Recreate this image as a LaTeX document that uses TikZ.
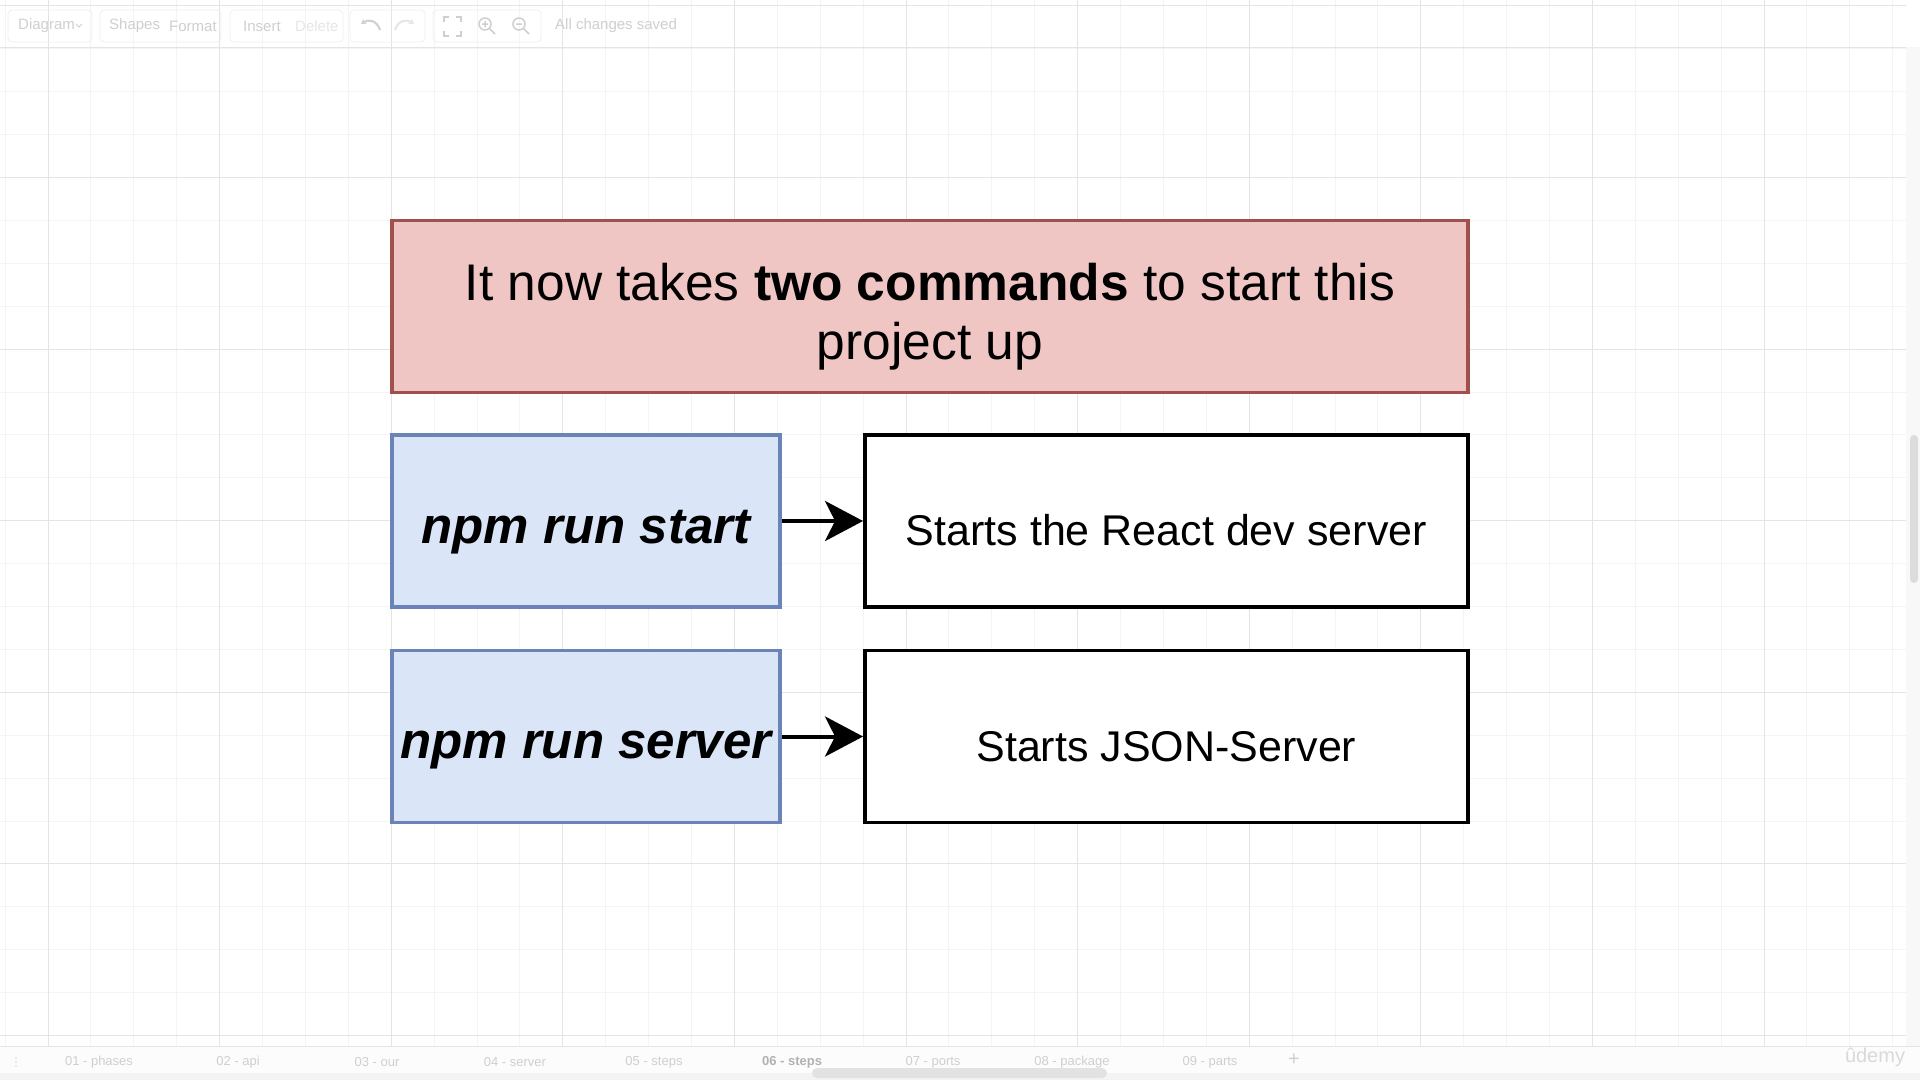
\documentclass[tikz,border=0pt]{standalone}
\usepackage{fontspec}
\setmainfont{Liberation Sans}
\usetikzlibrary{arrows.meta}
\definecolor{redfill}{HTML}{F0C6C4}
\definecolor{reddraw}{HTML}{A0514E}
\definecolor{bluefill}{HTML}{DAE6F8}
\definecolor{bluedraw}{HTML}{6A84B8}
\definecolor{gridminor}{HTML}{F4F4F4}
\definecolor{gridmajor}{HTML}{E4E4E4}
\definecolor{chrometext}{HTML}{CFCFCF}
\definecolor{chromepale}{HTML}{E6E6E6}
\definecolor{groupline}{HTML}{EFEFEF}
\definecolor{stripfill}{HTML}{F8F8F8}
\definecolor{thumbfill}{HTML}{DCDCDC}
\definecolor{tabfill}{HTML}{FCFCFC}
\definecolor{bandfill}{HTML}{F3F3F3}
\definecolor{hthumb}{HTML}{E2E2E2}
\tikzset{
  titlebox/.style={draw=reddraw, fill=redfill, line width=3.2pt, minimum width=1076pt, minimum height=172pt, align=center, inner sep=0pt, font=\fontsize{51.5}{58.8}\selectfont, text height=104.5pt, text depth=0pt},
  cmdbox/.style={draw=bluedraw, fill=bluefill, line width=3.2pt, minimum width=388pt, minimum height=172pt, inner sep=0pt, font=\fontsize{51}{56}\selectfont\bfseries\itshape, text height=44pt, text depth=0pt},
  descbox/.style={draw=black, fill=white, line width=3.6pt, minimum width=603pt, minimum height=172pt, inner sep=0pt, font=\fontsize{43}{50}\selectfont, text height=49pt, text depth=0pt},
  arr/.style={line width=4pt, -{Stealth[length=38pt, width=40pt, inset=10pt]}},
  tbtext/.style={text=chrometext, font=\fontsize{15}{18}\selectfont, inner sep=0pt, anchor=west},
  tbgroup/.style={draw=groupline, line width=0.8pt, rounded corners=4pt},
  tabtext/.style={text=chrometext, font=\fontsize{13}{16}\selectfont, inner sep=0pt},
}
\begin{document}
\begin{tikzpicture}[x=1pt,y=-1pt]
\useasboundingbox (0,0) rectangle (1920,1080);
\fill[white] (0,0) rectangle (1920,1080);
% grid
\foreach \k in {0,...,44} {
  \draw[gridminor, line width=1pt] ({5.1+42.9*\k},0) -- ({5.1+42.9*\k},1046);
}
\foreach \k in {0,...,24} {
  \draw[gridminor, line width=1pt] (0,{5.9+42.9*\k}) -- (1906,{5.9+42.9*\k});
}
\foreach \k in {0,...,10} {
  \draw[gridmajor, line width=1pt] ({48+171.6*\k},0) -- ({48+171.6*\k},1046);
}
\foreach \k in {0,...,6} {
  \draw[gridmajor, line width=1pt] (0,{5.9+171.6*\k}) -- (1906,{5.9+171.6*\k});
}
% toolbar
\draw[gridmajor, line width=1pt] (0,47) -- (1906,47);
\draw[tbgroup] (8,10) rectangle (92,42);
\draw[tbgroup] (100,10) rectangle (221,42);
\draw[tbgroup] (230,10) rectangle (343,42);
\draw[tbgroup] (350,10) rectangle (425,42);
\draw[tbgroup] (433,10) rectangle (541,42);
\node[tbtext] (tdiag) at (18,26) {Diagram};
\draw[chrometext, line width=1pt] (76,24) -- (79,27) -- (82,24);
\node[tbtext] (tshapes) at (109,26) {Shapes};
\node[tbtext] (tformat) at (169,26) {Format};
\node[tbtext] (tinsert) at (243,26) {Insert};
\node[tbtext, text=chromepale] (tdelete) at (295,26) {Delete};
\draw[chrometext, line width=2pt, -{Stealth[length=5pt,width=6pt]}] (380,30) .. controls (377,20) and (368,19) .. (361,24);
\draw[chromepale, line width=2pt, -{Stealth[length=5pt,width=6pt]}] (395,30) .. controls (398,20) and (407,19) .. (414,24);
\draw[chrometext, line width=1.5pt] (444,22) -- (444,17) -- (449,17) (456,17) -- (461,17) -- (461,22) (461,31) -- (461,36) -- (456,36) (449,36) -- (444,36) -- (444,31);
\draw[chrometext, line width=1.5pt] (485,24) circle (6pt) (489.5,28.5) -- (495,34) (482,24) -- (488,24) (485,21) -- (485,27);
\draw[chrometext, line width=1.5pt] (519,24) circle (6pt) (523.5,28.5) -- (529,34) (516,24) -- (522,24);
\node[tbtext] (tsaved) at (555,26) {All changes saved};
% right scrollbar strip
\fill[stripfill] (1906,47) rectangle (1920,1046);
\fill[thumbfill, rounded corners=4pt] (1910,435) rectangle (1918,583);
% bottom tab bar
\fill[tabfill] (0,1046) rectangle (1920,1080);
\draw[gridmajor, line width=1pt] (0,1046) -- (1920,1046);
\fill[bandfill] (0,1073) rectangle (1920,1080);
\foreach \y in {1058,1062,1066} { \fill[chromepale] (16,\y) circle (1.2pt); }
\node[tabtext] (tab1) at (99,1062) {01 - phases};
\node[tabtext] (tab2) at (238,1062) {02 - api};
\node[tabtext] (tab3) at (377,1062) {03 - our};
\node[tabtext] (tab4) at (515,1062) {04 - server};
\node[tabtext] (tab5) at (654,1062) {05 - steps};
\node[tabtext, text=gray!60, font=\fontsize{13}{16}\selectfont\bfseries] (tab6) at (792,1062) {06 - steps};
\node[tabtext] (tab7) at (933,1062) {07 - ports};
\node[tabtext] (tab8) at (1072,1062) {08 - package};
\node[tabtext] (tab9) at (1210,1062) {09 - parts};
\node[tabtext, font=\fontsize{20}{20}\selectfont] (tabplus) at (1294,1060) {+};
\fill[hthumb, rounded corners=5pt] (812,1068) rectangle (1107,1078);
\node[text=gray!30, font=\fontsize{20}{24}\selectfont, inner sep=0pt] (udemy) at (1875,1057) {ûdemy};
% main diagram
\node[titlebox] (title) at (930,306.75) {It now takes \textbf{two commands} to start this\\project up};
\node[cmdbox] (cmd1) at (585.9,521) {npm run start};
\node[cmdbox] (cmd2) at (585.9,736.5) {npm run server};
\node[descbox] (desc1) at (1166.35,521) {Starts the React dev server};
\node[descbox] (desc2) at (1166.35,736.5) {Starts JSON-Server};
\draw[arr] (cmd1.east) -- (desc1.west);
\draw[arr] (cmd2.east) -- (desc2.west);
\end{tikzpicture}
\end{document}
